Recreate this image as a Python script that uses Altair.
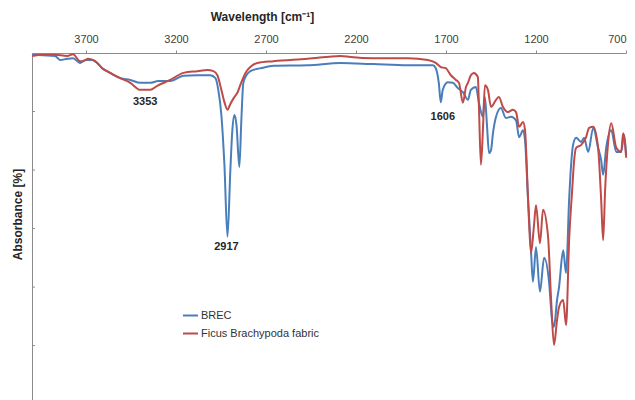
import altair as alt
import pandas as pd

# Wavenumber (cm^-1) and absorbance-scale values
brec_wn = [4000, 3939, 3872, 3844, 3805, 3772, 3733, 3705, 3666, 3638, 3610, 3566, 3510, 3454,
           3399, 3343, 3299, 3232, 3159, 3081, 3009, 2981, 2965, 2948, 2931, 2914, 2898, 2887,
           2875, 2864, 2848, 2837, 2826, 2809, 2787, 2747, 2731, 2658, 2469, 2285, 2102, 1912,
           1773, 1757, 1740, 1729, 1718, 1690, 1662, 1634, 1606, 1578, 1562, 1534, 1517, 1495,
           1484, 1473, 1461, 1450, 1439, 1422, 1395, 1367, 1339, 1311, 1294, 1272, 1261, 1244,
           1228, 1217, 1200, 1178, 1155, 1127, 1111, 1100, 1083, 1072, 1049, 1033, 1016, 1005,
           994, 977, 949, 933, 910, 882, 855, 838, 827, 810, 782, 754, 727, 710, 699]
brec_val = [99.7, 99.6, 99.5, 98.8, 99.0, 99.1, 98.3, 98.8, 98.8, 98.3, 97.4, 96.6, 95.7, 95.4,
            94.9, 94.9, 95.2, 95.2, 96.1, 96.2, 96.2, 95.7, 93.7, 89.4, 80.9, 68.6, 80.0, 86.8,
            89.4, 87.7, 80.5, 88.5, 94.9, 96.2, 96.9, 97.3, 97.4, 97.8, 97.9, 98.3, 98.1, 97.9,
            97.9, 97.4, 94.9, 91.6, 93.7, 95.0, 94.9, 94.0, 93.3, 92.0, 93.7, 94.2, 91.5, 89.1,
            92.5, 88.0, 82.9, 83.4, 86.3, 89.1, 90.6, 88.9, 89.1, 88.5, 85.6, 86.8, 85.1, 74.9,
            66.3, 60.9, 66.8, 59.2, 65.0, 60.7, 54.4, 53.2, 57.8, 60.0, 66.3, 62.4, 74.9, 80.9,
            84.3, 85.5, 84.8, 85.5, 83.1, 87.2, 83.8, 81.7, 79.2, 83.8, 86.8, 83.1, 83.1, 86.0, 82.6]

ficus_wn = [4000, 3939, 3872, 3805, 3772, 3733, 3716, 3688, 3649, 3610, 3566, 3510, 3454, 3399,
            3343, 3304, 3232, 3159, 3081, 3026, 2992, 2970, 2948, 2931, 2914, 2898, 2875, 2859,
            2837, 2814, 2787, 2747, 2658, 2469, 2285, 2230, 2102, 1912, 1801, 1757, 1729, 1701,
            1673, 1645, 1628, 1606, 1589, 1578, 1562, 1545, 1523, 1517, 1506, 1495, 1484, 1467,
            1450, 1422, 1406, 1384, 1356, 1328, 1311, 1294, 1272, 1261, 1244, 1228, 1211, 1200,
            1178, 1161, 1133, 1116, 1100, 1083, 1072, 1049, 1033, 1016, 999, 988, 977, 949, 922,
            905, 882, 855, 838, 827, 816, 799, 782, 754, 727, 716, 699]
ficus_val = [99.5, 99.7, 99.7, 99.5, 99.8, 98.6, 98.6, 99.0, 98.6, 97.4, 96.6, 95.7, 94.9, 93.7,
             93.7, 94.4, 95.4, 96.6, 96.9, 97.1, 96.9, 96.2, 93.7, 91.6, 90.3, 91.3, 92.5, 93.2,
             95.0, 96.6, 97.6, 98.3, 98.6, 99.0, 99.5, 99.3, 99.1, 99.1, 98.8, 98.3, 97.6, 97.4,
             96.2, 95.4, 94.9, 91.5, 94.2, 94.9, 96.2, 96.6, 95.9, 90.8, 80.9, 86.8, 94.5, 93.7,
             90.8, 92.0, 92.5, 90.8, 89.9, 90.3, 89.9, 87.4, 88.2, 86.8, 74.9, 65.8, 70.6, 74.0,
             67.5, 73.2, 68.6, 57.8, 50.1, 54.4, 56.6, 57.8, 53.5, 68.0, 76.6, 81.7, 83.8, 84.3, 85.6,
             87.2, 87.4, 83.8, 74.9, 68.0, 76.6, 84.8, 88.0, 83.8, 83.1, 86.3, 82.1]

series_names = ["BREC", "Ficus Brachypoda fabric"]
series_colors = ["#4a7ebb", "#be4b48"]

x_ticks = [3700, 3200, 2700, 2200, 1700, 1200, 700]
y_ticks = [50, 60, 70, 80, 90]

peak_labels = ["3353", "2917", "1606"]
peak_label_wn = [3371, 2920, 1718]
peak_label_val = [91.6, 66.8, 89.0]

rows = []
for w, v in zip(brec_wn, brec_val):
    rows.append({"wn": w, "val": v, "series": series_names[0]})
for w, v in zip(ficus_wn, ficus_val):
    rows.append({"wn": w, "val": v, "series": series_names[1]})
df = pd.DataFrame(rows)

lab_df = pd.DataFrame({"wn": peak_label_wn, "val": peak_label_val, "text": peak_labels})
tick_df = pd.DataFrame({"val": y_ticks})

FONT = "Liberation Sans"

xscale = alt.Scale(domain=[700, 4000], reverse=True, nice=False, zero=False)
yscale = alt.Scale(domain=[40.7, 100], nice=False, zero=False)

lines = alt.Chart(df).mark_line(strokeWidth=2, interpolate="monotone").encode(
    x=alt.X("wn:Q", scale=xscale,
            axis=alt.Axis(orient="top", values=x_ticks, format="d",
                          title="Wavelength [cm⁻¹]",
                          grid=False, domainColor="#8c8c8c", tickColor="#8c8c8c",
                          tickSize=3, labelPadding=6, labelFontSize=11, labelColor="#404040",
                          labelFont=FONT, titleFont=FONT, titleFontSize=12,
                          titleFontWeight="bold", titleColor="#262626",
                          titleX=230, titleY=-33, titleAlign="center",
                          titleBaseline="alphabetic")),
    y=alt.Y("val:Q", scale=yscale,
            axis=alt.Axis(orient="left", values=y_ticks, labels=False, ticks=False,
                          grid=False, domainColor="#8c8c8c", title="Absorbance [%]",
                          titleFont=FONT, titleFontSize=12, titleFontWeight="bold",
                          titleColor="#262626", titleX=-15, titleY=161,
                          titleAlign="center", titleBaseline="middle", titleAngle=270)),
    color=alt.Color("series:N",
                    scale=alt.Scale(domain=series_names, range=series_colors),
                    legend=alt.Legend(title=None, orient="none", legendX=150, legendY=254,
                                      symbolType="stroke", symbolSize=225,
                                      symbolStrokeWidth=2, labelFontSize=11,
                                      labelFont=FONT, labelColor="#333333",
                                      labelOffset=2, rowPadding=4, padding=0)),
)

yticks = alt.Chart(tick_df).mark_rule(color="#8c8c8c", strokeWidth=1).encode(
    y=alt.Y("val:Q", scale=yscale),
    x=alt.value(0),
    x2=alt.value(3),
)

labels = alt.Chart(lab_df).mark_text(font=FONT, fontSize=11, fontWeight="bold",
                                     color="#262626", align="center",
                                     baseline="middle").encode(
    x=alt.X("wn:Q", scale=xscale),
    y=alt.Y("val:Q", scale=yscale),
    text="text:N",
)

chart = alt.layer(lines, yticks, labels).properties(
    width=594, height=347,
    autosize=alt.AutoSizeParams(type="none"),
    padding={"left": 32, "top": 53, "right": 9, "bottom": 0},
    background="white",
).configure_view(strokeWidth=0)

chart.save("out.html", embed_options={"renderer": "svg", "actions": False})
